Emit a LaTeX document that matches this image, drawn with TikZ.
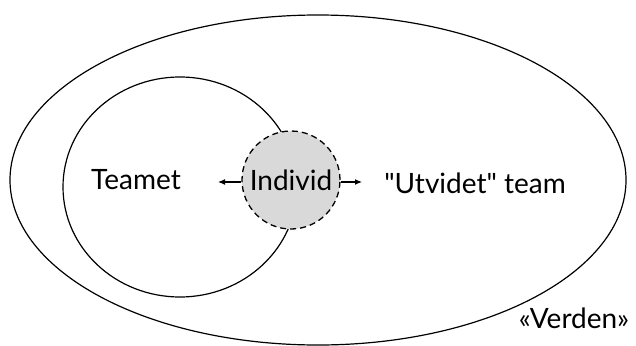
\documentclass[tikz,border=0pt]{standalone}
\usepackage{fontspec}
\setmainfont{Lato}[Ligatures=TeXOff]
\usetikzlibrary{arrows.meta}
\begin{document}
\begin{tikzpicture}[x=1pt,y=-1pt,
  ring/.style={draw=black,line width=1.2pt},
  indiv/.style={circle,draw=black,fill=black!15,dashed,dash pattern=on 6pt off 4pt,line width=1.3pt,minimum size=98pt,inner sep=0pt,font=\fontsize{28}{32}\selectfont},
  lbl/.style={font=\fontsize{28}{32}\selectfont,inner sep=0pt},
  arr/.style={-{Latex[length=7pt,width=6pt]},line width=1.2pt}]
\useasboundingbox (0,0) rectangle (636,345);
\draw[ring] (318,180) ellipse [x radius=308, y radius=165];
\draw[ring] (180,187) ellipse [x radius=117, y radius=110];
\node[indiv] (ind) at (291,180) {Individ};
\coordinate (la) at (218,182);
\coordinate (ra) at (362,182);
\draw[arr] (ind.west |- la) -- (la);
\draw[arr] (ind.east |- ra) -- (ra);
\node[lbl] (team) at (136,180) {Teamet};
\node[lbl] (utv) at (475,183) {"Utvidet" team};
\node[lbl] (verden) at (574,318) {«Verden»};
\end{tikzpicture}
\end{document}
